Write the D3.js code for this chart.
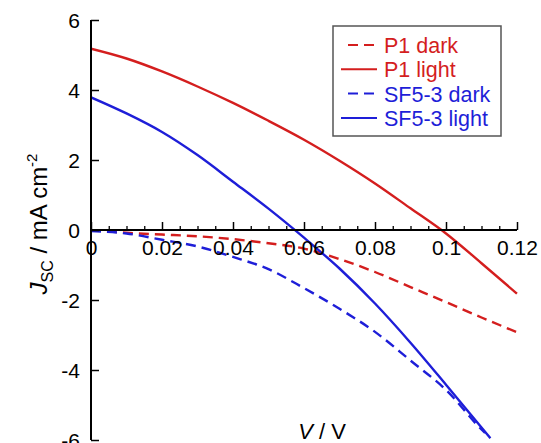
<!DOCTYPE html>
<html>
<head>
<meta charset="utf-8">
<script src="https://cdn.jsdelivr.net/npm/d3@7"></script>
<style>
  html, body { margin: 0; padding: 0; background: #fff; }
  svg { display: block; font-family: "Liberation Sans", Arial, sans-serif; }
</style>
</head>
<body>
<svg id="chart" width="541" height="443"></svg>
<script>
// ---- data ----
const voltage = [0, 0.01, 0.02, 0.03, 0.04, 0.05, 0.06, 0.07, 0.08, 0.09, 0.10, 0.11, 0.12];
const p1Dark  = [0, -0.08, -0.13, -0.18, -0.26, -0.38, -0.53, -0.83, -1.2, -1.63, -2.06, -2.5, -2.92];
const p1Light = [5.18, 4.9, 4.53, 4.1, 3.63, 3.12, 2.58, 1.98, 1.33, 0.62, -0.1, -0.95, -1.82];
const sfDarkVoltage  = [0, 0.01, 0.02, 0.03, 0.04, 0.05, 0.06, 0.07, 0.08, 0.09, 0.10, 0.11, 0.111];
const sfDark  = [-0.03, -0.1, -0.28, -0.47, -0.77, -1.12, -1.66, -2.25, -2.91, -3.73, -4.57, -5.7, -5.8];
const sfLightVoltage = [0, 0.01, 0.02, 0.03, 0.04, 0.05, 0.06, 0.07, 0.08, 0.09, 0.10, 0.11, 0.1125];
const sfLight = [3.79, 3.33, 2.8, 2.14, 1.38, 0.61, -0.22, -1.1, -2.1, -3.22, -4.42, -5.64, -5.95];
const xTicks = [0, 0.02, 0.04, 0.06, 0.08, 0.1, 0.12];
const xTickLabels = ["0", "0.02", "0.04", "0.06", "0.08", "0.1", "0.12"];
const yTicks = [-6, -4, -2, 0, 2, 4, 6];
const seriesNames = ["P1 dark", "P1 light", "SF5-3 dark", "SF5-3 light"];

const RED = "#d41e1e", BLUE = "#1e1ed8";
const series = [
  { name: seriesNames[0], xs: voltage, ys: p1Dark, color: RED, dashed: true },
  { name: seriesNames[1], xs: voltage, ys: p1Light, color: RED, dashed: false },
  { name: seriesNames[2], xs: sfDarkVoltage, ys: sfDark, color: BLUE, dashed: true },
  { name: seriesNames[3], xs: sfLightVoltage, ys: sfLight, color: BLUE, dashed: false }
];

const svg = d3.select("#chart");
const x = d3.scaleLinear().domain([0, 0.12]).range([91, 517]);
const y = d3.scaleLinear().domain([-6, 6]).range([440, 20]);

svg.append("rect").attr("width", 541).attr("height", 443).attr("fill", "#fff");

svg.append("clipPath").attr("id", "clip").append("rect")
  .attr("x", 91).attr("y", 18).attr("width", 430).attr("height", 425);

const line = d3.line().x(d => x(d[0])).y(d => y(d[1])).curve(d3.curveMonotoneX);
const plot = svg.append("g").attr("clip-path", "url(#clip)");
series.forEach(s => {
  plot.append("path")
    .datum(s.xs.map((v, i) => [v, s.ys[i]]))
    .attr("d", line)
    .attr("fill", "none")
    .attr("stroke", s.color)
    .attr("stroke-width", 2.4)
    .attr("stroke-dasharray", s.dashed ? "10,6" : null);
});

// x axis at y = 0 (minor ticks)
const xMinor = d3.range(0, 0.1201, 0.005).filter(v => Math.abs(Math.round(v / 0.02) * 0.02 - v) > 1e-6);
const xAxisMinor = d3.axisTop(x).tickValues(xMinor).tickSize(4).tickFormat("");
const gxm = svg.append("g").attr("transform", `translate(0,${y(0)})`).call(xAxisMinor);
gxm.select(".domain").remove();
gxm.selectAll("line").attr("stroke", "#000").attr("stroke-width", 1.3);

const xAxis = d3.axisTop(x).tickValues(xTicks).tickSize(8).tickFormat((d, i) => xTickLabels[i]);
const gx = svg.append("g").attr("transform", `translate(0,${y(0)})`).call(xAxis);
gx.select(".domain").attr("stroke", "#000").attr("stroke-width", 2).attr("d", `M${x(0)},0H${x(0.12)}`);
gx.selectAll(".tick line").attr("stroke", "#000").attr("stroke-width", 1.5);
gx.selectAll(".tick text")
  .attr("y", 25).attr("dy", 0)
  .attr("font-size", 21).attr("fill", "#000")
  .attr("font-family", "'Liberation Sans', Arial, sans-serif");

// y axis
const yAxis = d3.axisRight(y).tickValues(yTicks).tickSize(8).tickFormat(d => String(d));
const gy = svg.append("g").attr("transform", `translate(${x(0)},0)`).call(yAxis);
gy.select(".domain").attr("stroke", "#000").attr("stroke-width", 2).attr("d", `M0,${y(6)}V${y(-6)}`);
gy.selectAll(".tick line").attr("stroke", "#000").attr("stroke-width", 1.5);
gy.selectAll(".tick text")
  .attr("x", -11).attr("dy", "0.36em")
  .attr("text-anchor", "end")
  .attr("font-size", 21).attr("fill", "#000")
  .attr("font-family", "'Liberation Sans', Arial, sans-serif");

// y label
const yl = svg.append("text")
  .attr("transform", "translate(47,224) rotate(-90)")
  .attr("text-anchor", "middle")
  .attr("font-size", 24).attr("fill", "#000");
yl.append("tspan").attr("font-style", "italic").text("J");
yl.append("tspan").attr("font-size", 16).attr("dy", 6).text("SC");
yl.append("tspan").attr("dy", -6).text(" /  mA cm");
yl.append("tspan").attr("font-size", 15).attr("dy", -10).text("-2");

// x label
const xl = svg.append("text")
  .attr("x", 322).attr("y", 439)
  .attr("text-anchor", "middle")
  .attr("font-size", 22).attr("fill", "#000");
xl.append("tspan").attr("font-style", "italic").text("V");
xl.append("tspan").text(" / V");

// legend
const lg = svg.append("g");
lg.append("rect").attr("x", 333).attr("y", 26).attr("width", 168).attr("height", 110)
  .attr("fill", "#fff").attr("stroke", "#555").attr("stroke-width", 1.5);
series.forEach((s, i) => {
  const cy = 45 + i * 24.3;
  lg.append("line")
    .attr("x1", s.dashed ? 348 : 341).attr("x2", 377)
    .attr("y1", cy).attr("y2", cy)
    .attr("stroke", s.color).attr("stroke-width", 2)
    .attr("stroke-dasharray", s.dashed ? "10,6" : null);
  lg.append("text")
    .attr("x", 384).attr("y", cy + 8)
    .attr("font-size", 21.5).attr("fill", s.color)
    .text(s.name);
});
</script>
</body>
</html>
